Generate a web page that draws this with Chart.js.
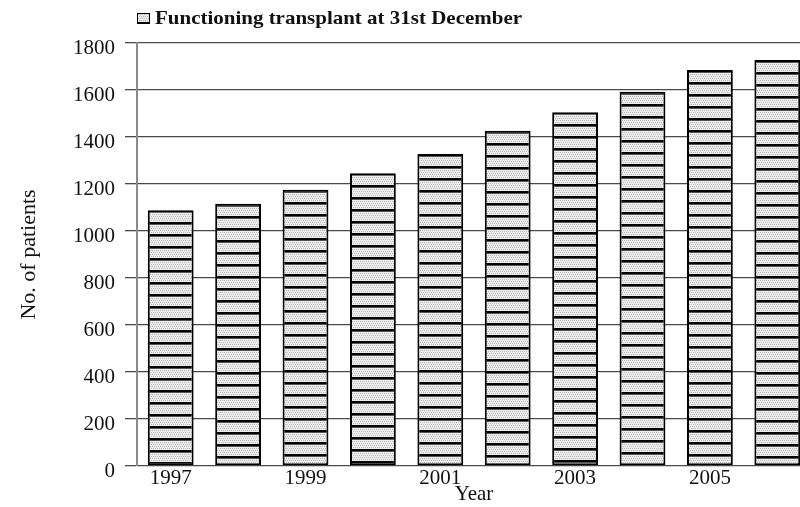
<!DOCTYPE html>
<html>
<head>
<meta charset="utf-8">
<script src="https://cdn.jsdelivr.net/npm/chart.js@4"></script>
<style>
  html, body { margin: 0; padding: 0; background: #fff; overflow: hidden; }
  #wrap { position: relative; width: 812px; height: 507px; }
</style>
</head>
<body>
<div id="wrap"><canvas id="chartTransplant"></canvas></div>
<script>
// dados do gráfico
const years = ["1997", "1998", "1999", "2000", "2001", "2002", "2003", "2004", "2005", "2006"];
const functioningTransplant = [1088, 1116, 1176, 1246, 1328, 1427, 1505, 1593, 1685, 1728];
const yTicks = [0, 200, 400, 600, 800, 1000, 1200, 1400, 1600, 1800];
const legendText = "Functioning transplant at 31st December";

const SERIF = '"Liberation Serif", "Times New Roman", "DejaVu Serif", serif';

// tile com listras e pontinhos
function makeTile() {
  const c = document.createElement("canvas");
  c.width = 6;
  c.height = 12;
  const t = c.getContext("2d");
  t.fillStyle = "#ededed";
  t.fillRect(0, 0, 6, 12);
  t.fillStyle = "#b8b8b8";
  for (let y = 4; y < 12; y += 2) {
    for (let x = (y % 4 === 0 ? 0 : 1); x < 6; x += 2) {
      t.fillRect(x, y, 1, 1);
    }
  }
  t.fillStyle = "#000";
  t.fillRect(0, 0, 6, 2);
  t.fillStyle = "#555";
  t.fillRect(0, 2, 6, 1);
  return c;
}
const tile = makeTile();

function barPattern(ctx, top) {
  const p = ctx.createPattern(tile, "repeat");
  if (top != null && p.setTransform) {
    p.setTransform(new DOMMatrix([1, 0, 0, 1, 0, Math.round(top)]));
  }
  return p;
}

const legendPlugin = {
  id: "legendBox",
  afterDraw(chart) {
    const ctx = chart.ctx;
    ctx.save();
    ctx.fillStyle = barPattern(ctx, 10);
    ctx.fillRect(137, 13, 13, 11);
    ctx.strokeStyle = "#000";
    ctx.lineWidth = 1;
    ctx.strokeRect(137.5, 13.5, 12, 10);
    ctx.fillStyle = "#111";
    ctx.font = "bold 19px " + SERIF;
    ctx.textBaseline = "middle";
    ctx.textAlign = "left";
    const w = ctx.measureText(legendText).width;
    ctx.translate(155, 19);
    ctx.scale(367 / w, 1);
    ctx.fillText(legendText, 0, 0);
    ctx.restore();
  },
};

const ctxT = document.getElementById("chartTransplant").getContext("2d");
const chartTransplant = new Chart(ctxT, {
  type: "bar",
  data: {
    labels: years,
    datasets: [
      {
        label: legendText,
        data: functioningTransplant,
        backgroundColor: (c) => {
          const y = c.chart.scales && c.chart.scales.y;
          if (!y || c.raw == null) return barPattern(c.chart.ctx, null);
          return barPattern(c.chart.ctx, y.getPixelForValue(c.raw));
        },
        borderColor: "#000",
        borderWidth: 2,
        borderSkipped: false,
        categoryPercentage: 1,
        barPercentage: 0.68,
      },
    ],
  },
  options: {
    responsive: true,
    maintainAspectRatio: false,
    animation: false,
    layout: { padding: { top: 43, right: 1, left: 0, bottom: 0 } },
    plugins: {
      legend: { display: false },
      tooltip: { enabled: false },
    },
    scales: {
      x: {
        offset: true,
        grid: { display: false, drawTicks: false },
        border: { display: false },
        ticks: {
          autoSkip: false,
          maxRotation: 0,
          padding: 0,
          color: "#111",
          font: { family: SERIF, size: 21 },
          callback: (v, i) => (i % 2 === 0 ? years[i] : ""),
        },
        title: {
          display: true,
          text: "Year",
          color: "#111",
          font: { family: SERIF, size: 21 },
          padding: { top: 0, bottom: 0 },
        },
        afterFit: (s) => { s.height = 41; },
      },
      y: {
        min: 0,
        max: 1800,
        afterBuildTicks: (s) => { s.ticks = yTicks.map((v) => ({ value: v })); },
        grid: { color: "#4a4a4a", lineWidth: 1.3, tickLength: 12 },
        border: { color: "#8a8a8a", width: 2 },
        ticks: {
          padding: 10,
          labelOffset: 5,
          color: "#111",
          font: { family: SERIF, size: 21 },
          callback: (v) => String(v),
        },
        title: {
          display: true,
          text: "No. of patients",
          color: "#111",
          font: { family: SERIF, size: 22 },
          padding: { top: 16, bottom: 0 },
        },
        afterFit: (s) => { s.width = 137; },
      },
    },
  },
  plugins: [legendPlugin],
});
</script>
</body>
</html>
